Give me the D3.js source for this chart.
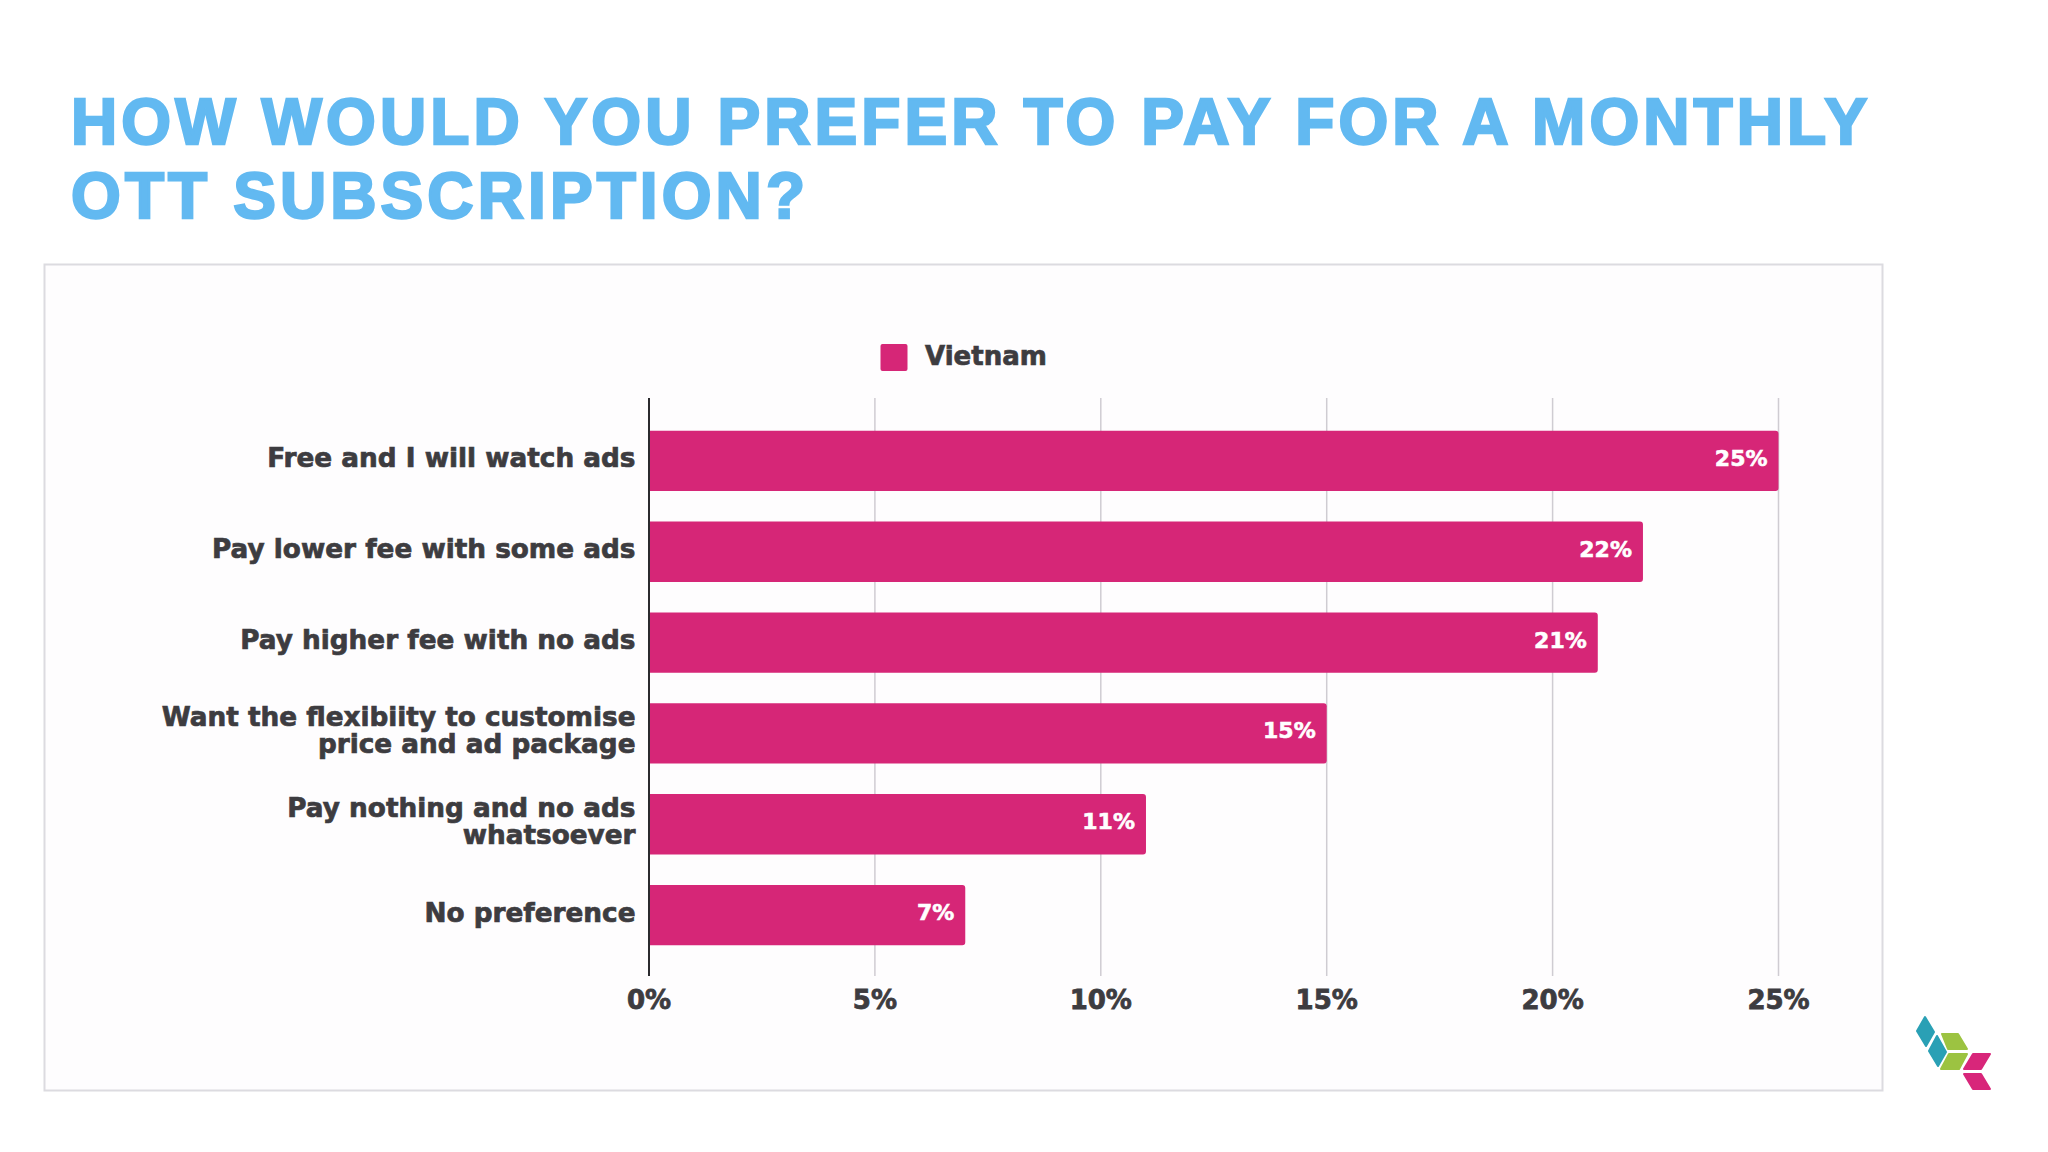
<!DOCTYPE html>
<html><head><meta charset="utf-8">
<script src="https://cdn.jsdelivr.net/npm/d3@7"></script>
<style>html,body{margin:0;padding:0;background:#fff;overflow:hidden}svg{display:block}</style>
</head><body><svg id="c" width="2048" height="1152"></svg>
<script>
const titleLines = ["HOW WOULD YOU PREFER TO PAY FOR A MONTHLY", "OTT SUBSCRIPTION?"];
const categories = [
  ["Free and I will watch ads"],
  ["Pay lower fee with some ads"],
  ["Pay higher fee with no ads"],
  ["Want the flexibiity to customise", "price and ad package"],
  ["Pay nothing and no ads", "whatsoever"],
  ["No preference"]
];
const values = [25, 22, 21, 15, 11, 7];
const seriesName = "Vietnam";
const ticks = [0, 5, 10, 15, 20, 25];

const svg = d3.select("#c");
const barColor = "#d62677", textColor = "#3d3c40", gridColor = "#cfccd2";
const font = "'DejaVu Sans', sans-serif";

svg.append("rect").attr("width", 2048).attr("height", 1152).attr("fill", "#fff");

// title
svg.append("g").selectAll("text").data(titleLines).join("text")
  .attr("x", 71).attr("y", (d, i) => 144 + i * 74)
  .attr("font-family", "'Liberation Sans', Arial, sans-serif")
  .attr("font-weight", 700).attr("font-size", 64).attr("letter-spacing", 4.1)
  .attr("fill", "#62b9f1").attr("stroke", "#62b9f1").attr("stroke-width", 2.4).text(d => d);

// panel
svg.append("rect").attr("x", 44.5).attr("y", 264.5).attr("width", 1838).attr("height", 826)
  .attr("fill", "#fefdfe").attr("stroke", "#dcdbe0").attr("stroke-width", 2);

const x = d3.scaleLinear().domain([0, 25]).range([649, 1778.5]);
const y = d3.scaleBand().domain(d3.range(categories.length)).range([415.5, 960.5]).paddingInner(0.335).paddingOuter(0.1675);
const axisTop = 398, axisBottom = 976;

// gridlines
svg.append("g").selectAll("line").data(ticks.slice(1)).join("line")
  .attr("x1", d => x(d)).attr("x2", d => x(d)).attr("y1", axisTop).attr("y2", axisBottom)
  .attr("stroke", gridColor).attr("stroke-width", 1.5);

// bars with slightly rounded right ends
const r = 3;
svg.append("g").selectAll("path").data(values).join("path")
  .attr("fill", barColor)
  .attr("d", (d, i) => {
    const p = d3.path(), x0 = x(0), x1 = x(d), y0 = y(i), y1 = y(i) + y.bandwidth();
    p.moveTo(x0, y0); p.lineTo(x1 - r, y0); p.arcTo(x1, y0, x1, y0 + r, r);
    p.lineTo(x1, y1 - r); p.arcTo(x1, y1, x1 - r, y1, r); p.lineTo(x0, y1); p.closePath();
    return p.toString();
  });

// zero line
svg.append("line").attr("x1", x(0)).attr("x2", x(0)).attr("y1", axisTop).attr("y2", axisBottom)
  .attr("stroke", "#2b2a2e").attr("stroke-width", 2);

// category labels
const lab = svg.append("g");
categories.forEach((lines, i) => {
  const cy = y(i) + y.bandwidth() / 2 - 3;
  lines.forEach((t, j) => {
    lab.append("text").attr("x", 635.5).attr("y", cy + (j - (lines.length - 1) / 2) * 27)
      .attr("dy", "0.36em").attr("text-anchor", "end").attr("font-family", font)
      .attr("font-weight", 700).attr("font-size", 26.3).attr("fill", textColor)
      .attr("stroke", textColor).attr("stroke-width", 0.7).text(t);
  });
});

// value labels
svg.append("g").selectAll("text").data(values).join("text")
  .attr("x", d => x(d) - 11).attr("y", (d, i) => y(i) + y.bandwidth() / 2 - 3).attr("dy", "0.36em")
  .attr("text-anchor", "end").attr("font-family", font).attr("font-weight", 700)
  .attr("font-size", 22).attr("fill", "#fff").attr("stroke", "#fff").attr("stroke-width", 0.6).text(d => d + "%");

// tick labels
svg.append("g").selectAll("text").data(ticks).join("text")
  .attr("x", d => x(d)).attr("y", 1000).attr("dy", "0.36em").attr("text-anchor", "middle")
  .attr("font-family", font).attr("font-weight", 700).attr("font-size", 26)
  .attr("fill", textColor).attr("stroke", textColor).attr("stroke-width", 0.8).text(d => d + "%");

// legend
svg.append("rect").attr("x", 880.5).attr("y", 344).attr("width", 27).attr("height", 27).attr("rx", 2).attr("fill", barColor);
svg.append("text").attr("x", 925).attr("y", 356).attr("dy", "0.36em").attr("font-family", font)
  .attr("font-weight", 700).attr("font-size", 26).attr("fill", textColor)
  .attr("stroke", textColor).attr("stroke-width", 0.7).text(seriesName);

// logo
const logoShapes = [
  {c: "#2aa0b5", p: [[1925,1017],[1934,1032],[1926,1046],[1917,1031]]},
  {c: "#2aa0b5", p: [[1937,1036],[1946,1052],[1938,1066],[1929,1051]]},
  {c: "#9cc341", p: [[1942,1034],[1958,1034],[1967,1049],[1948,1049]]},
  {c: "#9cc341", p: [[1949,1054],[1967,1054],[1959,1069],[1941,1069]]},
  {c: "#d8267a", p: [[1973,1054],[1990,1054],[1981,1069],[1964,1069]]},
  {c: "#d8267a", p: [[1964,1074],[1981,1074],[1990,1089],[1973,1089]]}
];
svg.append("g").selectAll("path").data(logoShapes).join("path")
  .attr("d", d => d3.line()(d.p) + "Z").attr("fill", d => d.c).attr("stroke", d => d.c)
  .attr("stroke-width", 2).attr("stroke-linejoin", "round");
</script></body></html>
